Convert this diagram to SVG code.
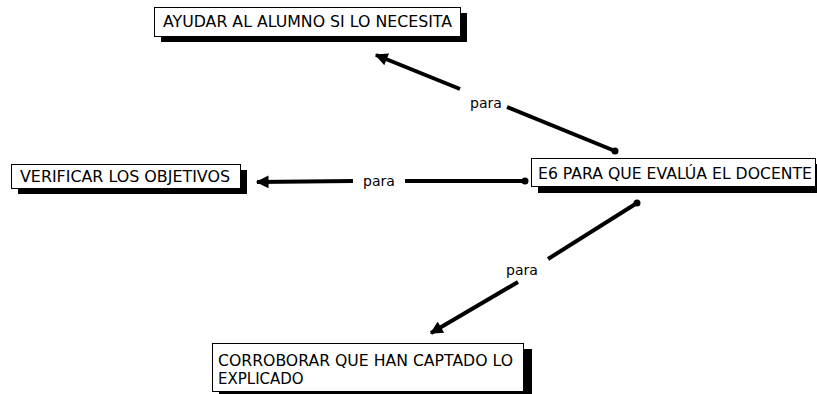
<svg xmlns="http://www.w3.org/2000/svg" width="817" height="394" viewBox="0 0 817 394">
<defs>
<style>
.sh{fill:#000}
.bx{fill:#fff;stroke:#000;stroke-width:1}
.t{font-family:"DejaVu Sans","Liberation Sans",sans-serif;font-size:15px;fill:#000}
.lbl{font-family:"DejaVu Sans","Liberation Sans",sans-serif;font-size:14px;fill:#000;text-anchor:middle}
.ln{stroke:#000;stroke-width:4;fill:none}
</style>
<marker id="ah" viewBox="0 0 10 10" refX="9" refY="5" markerWidth="3.4" markerHeight="3.2" orient="auto" markerUnits="strokeWidth">
<path d="M0,0 L10,5 L0,10 z" fill="#000"/>
</marker>
</defs>
<g id="connectors">
<circle cx="615" cy="151" r="3.5" fill="#000"/>
<line class="ln" x1="615" y1="151" x2="507" y2="107"/>
<line class="ln" x1="460" y1="89" x2="376" y2="55" marker-end="url(#ah)"/>
<text class="lbl" x="486" y="108">para</text>
<circle cx="525" cy="181" r="3.5" fill="#000"/>
<line class="ln" x1="525" y1="181" x2="405" y2="181"/>
<line class="ln" x1="353" y1="181" x2="257" y2="182" marker-end="url(#ah)"/>
<text class="lbl" x="379" y="186">para</text>
<circle cx="637" cy="203" r="3.5" fill="#000"/>
<line class="ln" x1="637" y1="203" x2="548" y2="259"/>
<line class="ln" x1="518" y1="282" x2="431" y2="333" marker-end="url(#ah)"/>
<text class="lbl" x="522" y="275">para</text>
</g>
<g id="n1">
<rect class="sh" x="161" y="13" width="306" height="29"/>
<rect class="bx" x="154.5" y="7.5" width="306" height="29"/>
<text class="t" x="163" y="27" textLength="289" lengthAdjust="spacingAndGlyphs">AYUDAR AL ALUMNO SI LO NECESITA</text>
</g>
<g id="n2">
<rect class="sh" x="18" y="170" width="229" height="24"/>
<rect class="bx" x="11.5" y="164.5" width="229" height="24"/>
<text class="t" x="20" y="182" textLength="210" lengthAdjust="spacingAndGlyphs">VERIFICAR LOS OBJETIVOS</text>
</g>
<g id="n3">
<rect class="sh" x="538" y="164" width="285" height="29"/>
<rect class="bx" x="531.5" y="158.5" width="284" height="28"/>
<text class="t" x="538" y="179" textLength="274" lengthAdjust="spacingAndGlyphs">E6 PARA QUE EVALÚA EL DOCENTE</text>
</g>
<g id="n4">
<rect class="sh" x="219" y="349" width="313" height="48"/>
<rect class="bx" x="212.5" y="343.5" width="311" height="48"/>
<text class="t" x="218" y="366" textLength="295" lengthAdjust="spacingAndGlyphs">CORROBORAR QUE HAN CAPTADO LO</text>
<text class="t" x="218" y="384">EXPLICADO</text>
</g>
</svg>
